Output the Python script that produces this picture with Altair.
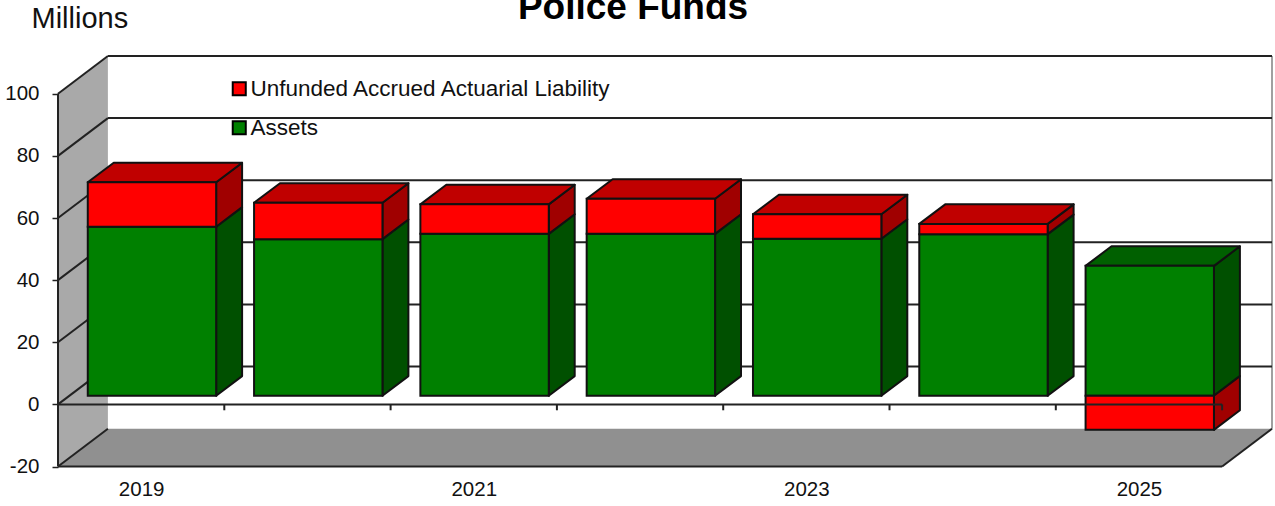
import altair as alt
import pandas as pd

# Fund values in millions of dollars
years = [2019, 2020, 2021, 2022, 2023, 2024, 2025]
assets = [54.4, 50.4, 52.1, 52.1, 50.5, 52.0, 41.8]
unfunded = [14.3, 11.7, 9.5, 11.3, 7.9, 3.3, -11.0]
y_ticks = [-20, 0, 20, 40, 60, 80, 100]
year_labels = [2019, 2021, 2023, 2025]

ASSETS = "Assets"
UNFUNDED = "Unfunded Accrued Actuarial Liability"
FACES = {
    ASSETS: {"front": "#008000", "top": "#006000", "side": "#005000"},
    UNFUNDED: {"front": "#ff0000", "top": "#c00000", "side": "#a00000"},
}
FONT = "Liberation Sans"
EDGE = "#222222"
LINE = 2

# Oblique projection: depth expressed in axis units
ROOM_DX, ROOM_DY = 0.3, 12.16
BAR_DX, BAR_DY = 0.156, 6.3
BAR_SHIFT_X, BAR_SHIFT_Y = 0.065, 2.8
BAR_WIDTH = 0.772
X_MIN, X_MAX = years[0] - 0.5, years[-1] + 0.5
Y_MIN, Y_MAX = y_ticks[0], y_ticks[-1]

x_scale = alt.Scale(domain=[X_MIN, X_MAX + ROOM_DX], nice=False, zero=False)
y_scale = alt.Scale(domain=[Y_MIN, Y_MAX + ROOM_DY], nice=False, zero=False)

# One row per visible box section
rows = []
for year, a, u in zip(years, assets, unfunded):
    xl = year - BAR_WIDTH / 2 + BAR_SHIFT_X
    xr = xl + BAR_WIDTH
    base = BAR_SHIFT_Y
    rows.append(dict(series=ASSETS, year=year, xl=xl, xr=xr, lo=base, hi=base + a))
    if u >= 0:
        rows.append(dict(series=UNFUNDED, year=year, xl=xl, xr=xr, lo=base + a, hi=base + a + u))
    else:
        rows.append(dict(series=UNFUNDED, year=year, xl=xl, xr=xr, lo=base + u, hi=base))
boxes = pd.DataFrame(rows)

# Right-hand side faces, two rows per parallelogram
sides = []
for r in rows:
    sides.append(dict(series=r["series"], id=f'{r["year"]}{r["series"]}', x=r["xr"], lo=r["lo"], hi=r["hi"]))
    sides.append(dict(series=r["series"], id=f'{r["year"]}{r["series"]}', x=r["xr"] + BAR_DX,
                      lo=r["lo"] + BAR_DY, hi=r["hi"] + BAR_DY))
sides = pd.DataFrame(sides)

# Top faces of whichever section ends highest in each year
tops = []
for year, group in boxes.groupby("year"):
    r = group.loc[group["hi"].idxmax()]
    tops.append(dict(series=r["series"], id=str(year), y=r["hi"], xl=r["xl"], xr=r["xr"]))
    tops.append(dict(series=r["series"], id=str(year), y=r["hi"] + BAR_DY,
                     xl=r["xl"] + BAR_DX, xr=r["xr"] + BAR_DX))
tops = pd.DataFrame(tops)

X = lambda f: alt.X(f, type="quantitative", scale=x_scale, title=None)
Y = lambda f: alt.Y(f, type="quantitative", scale=y_scale, title="Millions", stack=None)

left_wall = alt.Chart(pd.DataFrame({
    "x": [X_MIN, X_MIN + ROOM_DX],
    "lo": [Y_MIN, Y_MIN + ROOM_DY],
    "hi": [Y_MAX, Y_MAX + ROOM_DY],
})).mark_area(color="#a9a9a9").encode(
    x=alt.X(
        "x:Q", scale=x_scale, title=None,
        axis=alt.Axis(
            values=year_labels, format="d", grid=False, domain=False, ticks=False,
            labelFont=FONT, labelFontSize=20.5, labelColor="#111111",
            labelPadding=13, labelOverlap=False, labelFlush=False,
        ),
    ),
    y=alt.Y(
        "lo:Q", scale=y_scale, stack=None, title="Millions",
        axis=alt.Axis(
            values=y_ticks, grid=False, domain=False, tickSize=6, tickWidth=1.5,
            tickColor=EDGE, labelFont=FONT, labelFontSize=20.5, labelColor="#111111",
            labelExpr="'' + datum.value",
            labelPadding=13, titleFont=FONT, titleFontSize=29, titleFontWeight="normal",
            titleColor="#111111", titleAngle=0, titleAlign="left", titleBaseline="alphabetic",
            titleX=-27, titleY=-29,
        ),
    ),
    y2="hi:Q",
)

floor = alt.Chart(pd.DataFrame({
    "y": [Y_MIN, Y_MIN + ROOM_DY],
    "xl": [X_MIN, X_MIN + ROOM_DX],
    "xr": [X_MAX, X_MAX + ROOM_DX],
})).mark_area(color="#909090", orient="horizontal").encode(
    y=Y("y"), x=X("xl"), x2="xr:Q",
)

# Room edges and gridlines as straight segments
segments = []
for v in y_ticks[1:]:
    segments.append(dict(x=X_MIN + ROOM_DX, x2=X_MAX + ROOM_DX, y=v + ROOM_DY, y2=v + ROOM_DY))
for v in y_ticks:
    segments.append(dict(x=X_MIN, x2=X_MIN + ROOM_DX, y=v, y2=v + ROOM_DY))
segments.append(dict(x=X_MIN, x2=X_MIN, y=Y_MIN, y2=Y_MAX))
segments.append(dict(x=X_MIN, x2=X_MAX, y=Y_MIN, y2=Y_MIN))
segments.append(dict(x=X_MAX, x2=X_MAX + ROOM_DX, y=Y_MIN, y2=Y_MIN + ROOM_DY))
room_lines = alt.Chart(pd.DataFrame(segments)).mark_rule(color=EDGE, strokeWidth=LINE).encode(
    x=X("x"), x2="x2:Q", y=Y("y"), y2="y2:Q",
)

right_edge = alt.Chart(pd.DataFrame({
    "x": [X_MAX + ROOM_DX], "y": [Y_MIN + ROOM_DY], "y2": [Y_MAX + ROOM_DY],
})).mark_rule(color="#a0a0a0", strokeWidth=2).encode(x=X("x"), y=Y("y"), y2="y2:Q")


def side_layer(series):
    return alt.Chart(sides[sides["series"] == series]).mark_area(
        color=FACES[series]["side"], stroke="#111111", strokeWidth=LINE, strokeJoin="round",
    ).encode(x=X("x"), y=Y("lo"), y2="hi:Q", detail="id:N")


def top_layer(series):
    return alt.Chart(tops[tops["series"] == series]).mark_area(
        color=FACES[series]["top"], stroke="#111111", strokeWidth=LINE, strokeJoin="round",
        orient="horizontal",
    ).encode(y=Y("y"), x=X("xl"), x2="xr:Q", detail="id:N")


fronts = alt.Chart(boxes).mark_rect(stroke="#111111", strokeWidth=LINE).encode(
    x=X("xl"), x2="xr:Q", y=Y("lo"), y2="hi:Q",
    color=alt.Color(
        "series:N",
        scale=alt.Scale(
            domain=[UNFUNDED, ASSETS],
            range=[FACES[UNFUNDED]["front"], FACES[ASSETS]["front"]],
        ),
        legend=alt.Legend(
            title=None, orient="none", legendX=168, legendY=21.5, padding=0,
            symbolType="square", symbolSize=170, symbolStrokeColor="black", symbolOffset=2,
            symbolStrokeWidth=2, labelFont=FONT, labelFontSize=22.5,
            labelColor="#111111", labelOffset=0, rowPadding=16, labelLimit=500,
        ),
    ),
)

# Zero line with its category ticks, in front of the boxes
zero = [dict(x=X_MIN, x2=X_MAX, y=0, y2=0)]
for edge in range(years[0], years[-1] + 2):
    zero.append(dict(x=edge - 0.5, x2=edge - 0.5, y=0, y2=-1.9))
zero_lines = alt.Chart(pd.DataFrame(zero)).mark_rule(color=EDGE, strokeWidth=LINE).encode(
    x=X("x"), x2="x2:Q", y=Y("y"), y2="y2:Q",
)

chart = alt.layer(
    left_wall, floor, right_edge, room_lines,
    side_layer(ASSETS), side_layer(UNFUNDED),
    top_layer(ASSETS), top_layer(UNFUNDED),
    fronts, zero_lines,
).properties(
    width=1214,
    height=410.5,
    padding={"left": 58, "top": 56, "right": 3, "bottom": 39},
    autosize=alt.AutoSizeParams(type="none"),
    background="white",
    title=alt.TitleParams(
        "Police Funds", font=FONT, fontSize=37, fontWeight="bold", color="black",
        anchor="middle", dx=-32, offset=-23,
    ),
).configure_view(stroke=None)

chart.save("out.html", embed_options={"renderer": "svg", "actions": False})
